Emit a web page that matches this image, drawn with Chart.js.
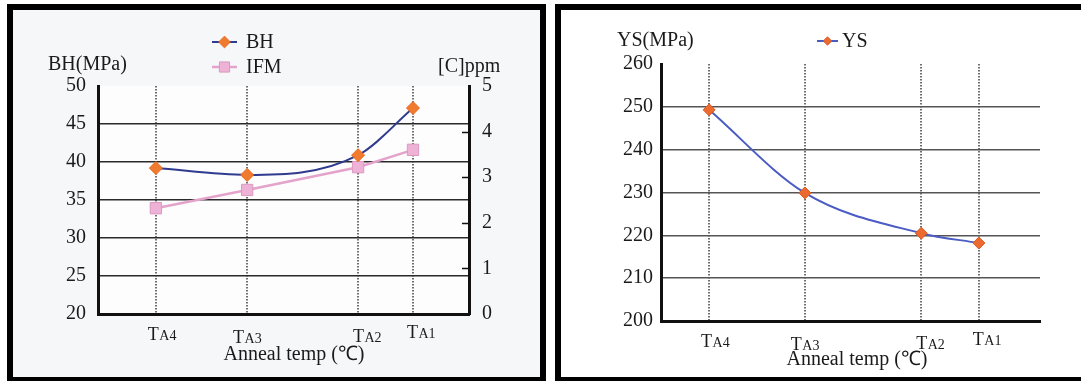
<!DOCTYPE html>
<html>
<head>
<meta charset="utf-8">
<script src="https://cdn.jsdelivr.net/npm/chart.js@4.4.1/dist/chart.umd.min.js"></script>
<style>
  html, body { margin: 0; padding: 0; background: #fff; width: 1081px; height: 381px; overflow: hidden; }
  .panel { position: absolute; top: 4px; height: 367px; border: 6px solid #000; border-bottom-width: 4px; }
  #panel-bh { left: 7px; width: 527px; background: #f6f7f9; }
  #panel-ys { left: 555px; width: 540px; border-right: none; background: #fff; }
  .box { position: absolute; left: 0; top: 0; height: 367px; }
</style>
</head>
<body>
<div class="panel" id="panel-bh"><div class="box" style="width:527px"><canvas id="bh-chart"></canvas></div></div>
<div class="panel" id="panel-ys"><div class="box" style="width:520px"><canvas id="ys-chart"></canvas></div></div>
<script>
// anneal temperatures, highest last; positions are relative spacing on the x axis
const tempLabels = ['TA4', 'TA3', 'TA2', 'TA1'];
const tempPositions = [15.6, 40.2, 70.1, 84.9];

// bake hardening (MPa) and interstitial free carbon ([C] ppm)
const bhValues = [39.2, 38.3, 40.9, 47.1];
const ifmValues = [2.32, 2.72, 3.22, 3.60];

// yield strength (MPa)
const ysValues = [249.3, 229.9, 220.5, 218.2];

const SERIF = '"Liberation Serif", "Times New Roman", serif';
const INK = '#1a1a1a';

// small nudges for the T-label row under the axis
const labelShift = [[6, 20], [0, 23], [9, 22], [8, 18]];

function toPoints(values) {
  return values.map((v, i) => ({ x: tempPositions[i], y: v }));
}

function drawMarker(ctx, style, r, x, y, fill, stroke) {
  ctx.beginPath();
  if (style === 'rectRot') {
    ctx.moveTo(x, y - r); ctx.lineTo(x + r, y); ctx.lineTo(x, y + r); ctx.lineTo(x - r, y);
  } else {
    const s = r * Math.SQRT1_2;
    ctx.rect(x - s, y - s, 2 * s, 2 * s);
  }
  ctx.closePath();
  ctx.fillStyle = fill;
  ctx.fill();
  ctx.lineWidth = 1;
  ctx.strokeStyle = stroke;
  ctx.stroke();
}

const panelText = {
  id: 'panelText',
  beforeDraw(chart, args, opts) {
    const { ctx, chartArea: a } = chart;
    if (opts.plotFill) {
      ctx.save();
      ctx.fillStyle = opts.plotFill;
      ctx.fillRect(a.left, a.top, a.width, a.height);
      ctx.restore();
    }
  },
  afterDraw(chart, args, opts) {
    const { ctx, chartArea: a, scales } = chart;
    ctx.save();
    ctx.fillStyle = INK;
    ctx.font = '20px ' + SERIF;
    ctx.textBaseline = 'middle';
    ctx.textAlign = 'left';
    opts.titles.forEach(t => ctx.fillText(t.text, t.x, t.y));
    ctx.textAlign = 'center';
    ctx.fillText('Anneal temp (℃)', opts.xTitle.x, opts.xTitle.y);

    // T + small "A4" style labels under the grid lines
    ctx.textAlign = 'left';
    ctx.textBaseline = 'alphabetic';
    tempLabels.forEach((lab, i) => {
      const cx = scales.x.getPixelForValue(tempPositions[i]) + labelShift[i][0];
      const by = a.bottom + labelShift[i][1] + 6;
      ctx.font = '18px ' + SERIF;
      const w1 = ctx.measureText(lab[0]).width;
      ctx.font = '14px ' + SERIF;
      const w2 = ctx.measureText(lab.slice(1)).width;
      const x0 = cx - (w1 + w2) / 2;
      ctx.font = '18px ' + SERIF;
      ctx.fillText(lab[0], x0, by);
      ctx.font = '14px ' + SERIF;
      ctx.fillText(lab.slice(1), x0 + w1 + 0.5, by);
    });

    // inward tick marks on the right axis
    if (scales.y2) {
      ctx.strokeStyle = '#111';
      ctx.lineWidth = 1.5;
      scales.y2.ticks.forEach(t => {
        if (t.value <= scales.y2.min || t.value >= scales.y2.max) return;
        const y = Math.round(scales.y2.getPixelForValue(t.value)) + 0.5;
        ctx.beginPath();
        ctx.moveTo(a.right - 7, y);
        ctx.lineTo(a.right, y);
        ctx.stroke();
      });
    }

    // legend: short line with the marker on it
    const lg = opts.legend;
    chart.data.datasets.forEach((ds, i) => {
      const y = lg.y + i * lg.gap;
      ctx.strokeStyle = ds.borderColor;
      ctx.lineWidth = ds.borderWidth;
      ctx.beginPath();
      ctx.moveTo(lg.x, y);
      ctx.lineTo(lg.x + lg.len, y);
      ctx.stroke();
      drawMarker(ctx, ds.pointStyle, ds.pointRadius * lg.markerScale, lg.x + lg.len / 2, y,
        ds.pointBackgroundColor, ds.pointBorderColor);
      ctx.fillStyle = INK;
      ctx.font = '20px ' + SERIF;
      ctx.textBaseline = 'middle';
      ctx.fillText(ds.label, lg.x + lg.len + lg.pad, y + 1);
    });
    ctx.restore();
  }
};

function xScale(min, max, height) {
  return {
    type: 'linear', min: min, max: max,
    afterBuildTicks: s => { s.ticks = tempPositions.map(v => ({ value: v })); },
    afterFit: s => { s.height = height; },
    ticks: { display: false },
    grid: { color: 'rgba(85,85,85,0.85)', lineWidth: 2, drawTicks: false },
    border: { display: true, color: '#111', width: 3, dash: [1.5, 1.5] }
  };
}

function hideEnds(top, bottom, color) {
  return ctx => (ctx.tick && (ctx.tick.value === top || ctx.tick.value === bottom)) ? 'rgba(0,0,0,0)' : color;
}

Chart.defaults.font.family = SERIF;
Chart.defaults.color = INK;

new Chart(document.getElementById('bh-chart'), {
  type: 'line',
  data: {
    datasets: [
      {
        label: 'BH',
        data: toPoints(bhValues),
        yAxisID: 'y',
        borderColor: '#2f3b8f',
        borderWidth: 2,
        cubicInterpolationMode: 'monotone',
        pointStyle: 'rectRot',
        pointRadius: 6.5,
        pointBackgroundColor: '#f07a2e',
        pointBorderColor: '#e86a20',
        pointBorderWidth: 1
      },
      {
        label: 'IFM',
        data: toPoints(ifmValues),
        yAxisID: 'y2',
        borderColor: '#e3a3cb',
        borderWidth: 2.5,
        tension: 0,
        pointStyle: 'rect',
        pointRadius: 8,
        pointBackgroundColor: '#edb2d6',
        pointBorderColor: '#dc98c2',
        pointBorderWidth: 1
      }
    ]
  },
  options: {
    responsive: true,
    maintainAspectRatio: false,
    animation: false,
    events: [],
    layout: { padding: { top: 76, left: 0, right: 0, bottom: 0 } },
    plugins: {
      legend: { display: false },
      tooltip: { enabled: false },
      panelText: {
        plotFill: '#fdfdfd',
        titles: [
          { text: 'BH(MPa)', x: 35, y: 55 },
          { text: '[C]ppm', x: 425, y: 57 }
        ],
        xTitle: { x: 281, y: 345 },
        legend: { x: 199, y: 32, gap: 25, len: 25, pad: 9, markerScale: 0.9 }
      }
    },
    scales: {
      x: xScale(0, 100, 63),
      y: {
        position: 'left', min: 20, max: 50,
        afterFit: s => { s.width = 85; },
        ticks: { stepSize: 5, padding: 12, font: { size: 20 } },
        grid: { color: hideEnds(50, 20, '#2a2a2a'), lineWidth: 1.5, drawTicks: false },
        border: { color: '#111', width: 3 }
      },
      y2: {
        position: 'right', min: 0, max: 5,
        afterFit: s => { s.width = 71; },
        ticks: { stepSize: 1, padding: 13, font: { size: 20 } },
        grid: { drawOnChartArea: false, drawTicks: false },
        border: { color: '#111', width: 3 }
      }
    }
  },
  plugins: [panelText]
});

new Chart(document.getElementById('ys-chart'), {
  type: 'line',
  data: {
    datasets: [
      {
        label: 'YS',
        data: toPoints(ysValues),
        yAxisID: 'y',
        borderColor: '#4a5bc4',
        borderWidth: 2,
        cubicInterpolationMode: 'monotone',
        pointStyle: 'rectRot',
        pointRadius: 6,
        pointBackgroundColor: '#ec6a30',
        pointBorderColor: '#d85a22',
        pointBorderWidth: 1
      }
    ]
  },
  options: {
    responsive: true,
    maintainAspectRatio: false,
    animation: false,
    events: [],
    layout: { padding: { top: 54, left: 0, right: 41, bottom: 0 } },
    plugins: {
      legend: { display: false },
      tooltip: { enabled: false },
      panelText: {
        titles: [ { text: 'YS(MPa)', x: 56, y: 31 } ],
        xTitle: { x: 296, y: 350 },
        legend: { x: 256, y: 31, gap: 25, len: 21, pad: 4, markerScale: 0.7 }
      }
    },
    scales: {
      x: xScale(3.24, 100.6, 56),
      y: {
        position: 'left', min: 200, max: 260,
        afterFit: s => { s.width = 100; },
        ticks: { stepSize: 10, padding: 8, font: { size: 20 } },
        grid: { color: hideEnds(260, 200, '#555'), lineWidth: 1.5, drawTicks: false },
        border: { color: '#111', width: 3 }
      }
    }
  },
  plugins: [panelText]
});
</script>
</body>
</html>
